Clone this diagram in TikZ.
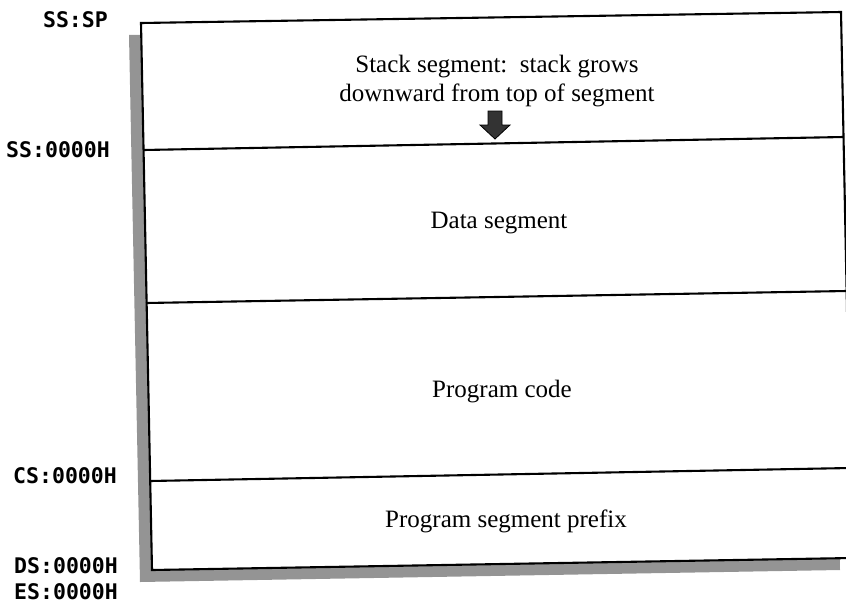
\documentclass[tikz,border=0pt]{standalone}
\usepackage{fontspec}
\setmainfont{Liberation Serif}
\newfontfamily\addrfont{DejaVu Sans Mono}
\begin{document}
\begin{tikzpicture}[x=1pt,y=-1pt,line join=miter,
  rule/.style={line width=2.1pt},
  segtext/.style={font=\fontsize{25}{29}\selectfont,align=center,anchor=base,inner sep=0pt},
  addr/.style={font=\addrfont\bfseries\fontsize{21.5}{26}\selectfont,anchor=base east,inner sep=0pt},
  shade/.style={fill=black!42}]
\useasboundingbox (0,0) rectangle (846,603);

% outer frame corners
\coordinate (tl) at (141,23);
\coordinate (tr) at (841,12);
\coordinate (br) at (852,558);
\coordinate (bl) at (152,570);

% divider end points on the left and right edges
\coordinate (ssL) at (143.5,150);  \coordinate (ssR) at (843.5,137);
\coordinate (dsL) at (146,303);    \coordinate (dsR) at (846.6,291);
\coordinate (csL) at (150,481);    \coordinate (csR) at (850.2,468);

% drop shadow
\fill[shade] ([shift={(-12,12)}]tl) -- ([shift={(-12,12)}]bl) -- ([shift={(-12,12)}]br) -- ([shift={(-12,12)}]tr) -- cycle;

% memory block
\filldraw[fill=white,rule] (tl) -- (tr) -- (br) -- (bl) -- cycle;
\draw[rule] (ssL) -- (ssR);
\draw[rule] (dsL) -- (dsR);
\draw[rule] (csL) -- (csR);

% segment names
\node[segtext] (stack) at (497,101) {Stack segment:\ \ stack grows\\downward from top of segment};
\node[segtext] (data) at (499,228) {Data segment};
\node[segtext] (code) at (502,397) {Program code};
\node[segtext] (psp) at (506,527) {Program segment prefix};

% growth arrow
\draw[fill=black!80,line width=0.8pt] (488,111) -- (502,111) -- (502,125) -- (510,125) -- (495,139) -- (480,125) -- (488,125) -- cycle;

% segment register addresses
\node[addr] (sssp) at (108,27) {SS:SP};
\node[addr] (ss0) at (110,157) {SS:0000H};
\node[addr] (cs0) at (117,483) {CS:0000H};
\node[addr] (ds0) at (118,573) {DS:0000H};
\node[addr] (es0) at (118,599) {ES:0000H};
\end{tikzpicture}
\end{document}
